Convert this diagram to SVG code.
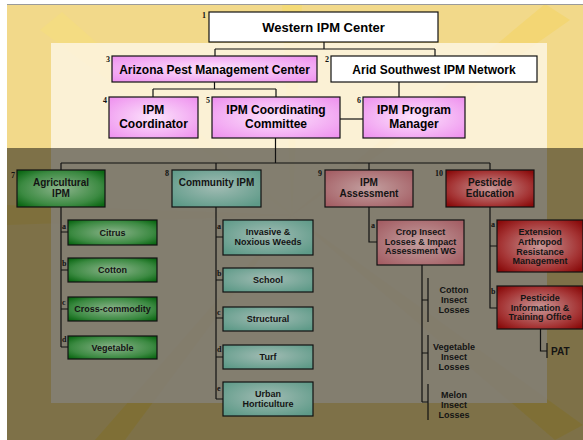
<svg xmlns="http://www.w3.org/2000/svg" width="583" height="440" viewBox="0 0 583 440">
<defs>
<radialGradient id="gPink" cx="50%" cy="50%" r="70%"><stop offset="0" stop-color="#fce4fc"/><stop offset="1" stop-color="#ee8fee"/></radialGradient>
<radialGradient id="gGreen" cx="50%" cy="50%" r="65%"><stop offset="0" stop-color="#8cb48c"/><stop offset="0.7" stop-color="#3c8a42"/><stop offset="1" stop-color="#0c6814"/></radialGradient>
<radialGradient id="gTeal" cx="50%" cy="45%" r="65%"><stop offset="0" stop-color="#a2bcb4"/><stop offset="1" stop-color="#5e9a88"/></radialGradient>
<radialGradient id="gRose" cx="50%" cy="50%" r="65%"><stop offset="0" stop-color="#c3a0a0"/><stop offset="1" stop-color="#a45e64"/></radialGradient>
<radialGradient id="gRed" cx="50%" cy="50%" r="65%"><stop offset="0" stop-color="#c89898"/><stop offset="0.7" stop-color="#a53535"/><stop offset="1" stop-color="#8a0c0c"/></radialGradient>
</defs>
<style>
.b{stroke:#111;stroke-width:1.2}
.w{fill:#fff}
.pk{fill:url(#gPink)}
.gr{fill:url(#gGreen)}
.tl{fill:url(#gTeal)}
.rs{fill:url(#gRose)}
.rd{fill:url(#gRed)}
text{font-family:"Liberation Sans",Arial,sans-serif;font-weight:bold;text-anchor:middle;fill:#000}
.t13{font-size:13px}
.t12{font-size:12px}
.t10{font-size:10px;fill:#141414}
.t9{font-size:9px;fill:#141414}
.n{font-family:"Liberation Serif","Times New Roman",serif;font-size:8px;text-anchor:start;fill:#111}
.lf{text-anchor:start}
.c path{stroke:#111;stroke-width:1.2;fill:none}
</style>
<g id="background">
<rect x="0" y="0" width="583" height="440" fill="#fff"/>
<rect x="7" y="4" width="576" height="436" fill="#f2d98a"/>
<g opacity="0.45">
<polygon points="292,215 282,4 302,4" fill="#f8dc60"/>
<polygon points="292,215 40,30 62,12" fill="#f8e07a"/>
<polygon points="292,215 545,4 570,20" fill="#f5d35a"/>
<polygon points="292,215 95,440 125,440" fill="#f5d040"/>
<polygon points="292,215 555,440 583,425" fill="#f5d040"/>
<polygon points="292,215 7,205 7,225" fill="#f3d25a"/>
</g>
<rect x="51" y="43" width="496" height="360" fill="#fdf5e2" opacity="0.85"/>
<line x1="7" y1="4.5" x2="583" y2="4.5" stroke="#9a9a9a" stroke-width="1"/>
<rect x="7" y="148" width="576" height="292" fill="#000" opacity="0.48"/>
</g>
<g id="connectors" class="c">
<path d="M324,42 V49 M215,49 H435 M215,49 V56 M435,49 V56"/>
<path d="M214.5,82 V89 M153,89 H276 M153,89 V97 M276,89 V97"/>
<path d="M399,82 V97"/>
<path d="M340,119 H363"/>
<path d="M275.5,138 V163 M61,163 H490 M61,163 V170 M216,163 V170 M369,163 V170 M490,163 V170"/>
<path d="M61,207 V347 M61,232 H68 M61,270 H68 M61,309 H68 M61,347 H68"/>
<path d="M216,207 V399 M216,237 H223 M216,280 H223 M216,318 H223 M216,357 H223 M216,399 H223"/>
<path d="M369,207 V242 H377"/>
<path d="M422,265 V402 M422,300 H428 M422,353 H428 M422,402 H428"/>
<path d="M428,278 V322 M428,335 V370 M428,384 V420"/>
<path d="M490,207 V308 H497 M490,246 H497"/>
<path d="M540.5,329 V351 H547 M547,343 V358"/>
</g>
<g id="n1"><rect class="b w" x="209" y="12" width="229" height="30"/><text class="t13" x="323.5" y="31.5">Western IPM Center</text><text class="n" x="202" y="18">1</text></g>
<g id="n3"><rect class="b pk" x="112" y="56" width="205" height="26"/><text class="t12" x="214.5" y="73.5">Arizona Pest Management Center</text><text class="n" x="106" y="62">3</text></g>
<g id="n2"><rect class="b w" x="331" y="56" width="206" height="26"/><text class="t12" x="434" y="73.5">Arid Southwest IPM Network</text><text class="n" x="325" y="62">2</text></g>
<g id="n4"><rect class="b pk" x="109" y="97" width="89" height="41"/><text class="t12" x="153.5" y="114">IPM</text><text class="t12" x="153.5" y="128">Coordinator</text><text class="n" x="103" y="103">4</text></g>
<g id="n5"><rect class="b pk" x="212" y="97" width="128" height="41"/><text class="t12" x="276" y="114">IPM Coordinating</text><text class="t12" x="276" y="128">Committee</text><text class="n" x="206" y="103">5</text></g>
<g id="n6"><rect class="b pk" x="363" y="97" width="102" height="41"/><text class="t12" x="414" y="114">IPM Program</text><text class="t12" x="414" y="128">Manager</text><text class="n" x="357" y="103">6</text></g>
<g id="n7"><rect class="b gr" x="17" y="170" width="88" height="37"/><text class="t10" x="61" y="185.5">Agricultural</text><text class="t10" x="61" y="196.5">IPM</text><text class="n" x="11" y="178">7</text></g>
<g id="n8"><rect class="b tl" x="172" y="170" width="89" height="37"/><text class="t10" x="216.5" y="185.5">Community IPM</text><text class="n" x="165" y="176">8</text></g>
<g id="n9"><rect class="b rs" x="325" y="170" width="88" height="37"/><text class="t10" x="369" y="185.5">IPM</text><text class="t10" x="369" y="196.5">Assessment</text><text class="n" x="318" y="176">9</text></g>
<g id="n10"><rect class="b rd" x="446" y="170" width="88" height="37"/><text class="t10" x="490" y="185.5">Pesticide</text><text class="t10" x="490" y="196.5">Education</text><text class="n" x="435" y="176">10</text></g>
<g id="n7a"><rect class="b gr" x="68" y="220" width="89" height="25"/><text class="t9" x="112.5" y="235.5">Citrus</text><text class="n" x="62" y="229">a</text></g>
<g id="n7b"><rect class="b gr" x="68" y="258" width="89" height="24"/><text class="t9" x="112.5" y="273">Cotton</text><text class="n" x="62" y="266">b</text></g>
<g id="n7c"><rect class="b gr" x="68" y="297" width="89" height="24"/><text class="t9" x="112.5" y="312">Cross-commodity</text><text class="n" x="62" y="305">c</text></g>
<g id="n7d"><rect class="b gr" x="68" y="336" width="89" height="23"/><text class="t9" x="112.5" y="350.5">Vegetable</text><text class="n" x="62" y="342">d</text></g>
<g id="n8a"><rect class="b tl" x="223" y="220" width="90" height="35"/><text class="t9" x="268" y="235">Invasive &amp;</text><text class="t9" x="268" y="245">Noxious Weeds</text><text class="n" x="217" y="229">a</text></g>
<g id="n8b"><rect class="b tl" x="223" y="268" width="90" height="24"/><text class="t9" x="268" y="283">School</text><text class="n" x="217" y="276">b</text></g>
<g id="n8c"><rect class="b tl" x="223" y="307" width="90" height="24"/><text class="t9" x="268" y="322">Structural</text><text class="n" x="217" y="315">c</text></g>
<g id="n8d"><rect class="b tl" x="223" y="345" width="90" height="24"/><text class="t9" x="268" y="360">Turf</text><text class="n" x="217" y="352">d</text></g>
<g id="n8e"><rect class="b tl" x="223" y="382" width="90" height="34"/><text class="t9" x="268" y="397">Urban</text><text class="t9" x="268" y="407">Horticulture</text><text class="n" x="217" y="391">e</text></g>
<g id="n9a"><rect class="b rs" x="377" y="220" width="87" height="45"/><text class="t9" x="420.5" y="235">Crop Insect</text><text class="t9" x="420.5" y="244.5">Losses &amp; Impact</text><text class="t9" x="420.5" y="254">Assessment WG</text><text class="n" x="371" y="228">a</text></g>
<g id="n9a1"><text class="t9" x="454" y="293">Cotton</text><text class="t9" x="454" y="303">Insect</text><text class="t9" x="454" y="313">Losses</text></g>
<g id="n9a2"><text class="t9" x="454" y="350">Vegetable</text><text class="t9" x="454" y="360">Insect</text><text class="t9" x="454" y="370">Losses</text></g>
<g id="n9a3"><text class="t9" x="454" y="398">Melon</text><text class="t9" x="454" y="408">Insect</text><text class="t9" x="454" y="418">Losses</text></g>
<g id="n10a"><rect class="b rd" x="497" y="220" width="86" height="52"/><text class="t9" x="540" y="235">Extension</text><text class="t9" x="540" y="245">Arthropod</text><text class="t9" x="540" y="254.5">Resistance</text><text class="t9" x="540" y="264">Management</text><text class="n" x="491" y="227">a</text></g>
<g id="n10b"><rect class="b rd" x="497" y="286" width="86" height="43"/><text class="t9" x="540" y="301">Pesticide</text><text class="t9" x="540" y="310.5">Information &amp;</text><text class="t9" x="540" y="320">Training Office</text><text class="n" x="491" y="294">b</text></g>
<g id="n10b1"><text class="t10 lf" x="551" y="354.5">PAT</text></g>
</svg>
